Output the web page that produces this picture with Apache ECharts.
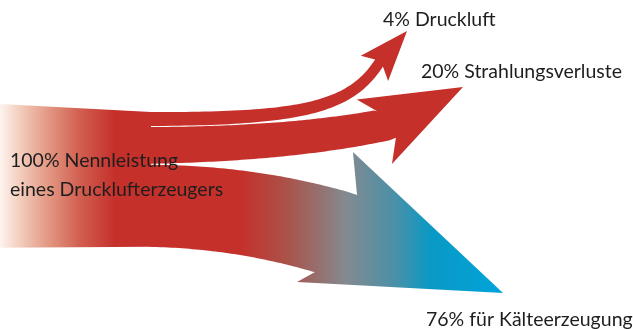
<!DOCTYPE html>
<html><head><meta charset="utf-8">
<script src="https://cdn.jsdelivr.net/npm/echarts@6/dist/echarts.min.js"></script>
<style>html,body{margin:0;padding:0;background:#fff}#c{width:633px;height:329px}</style>
</head><body><div id="c"></div>
<script>
// ---- data ----
const sourceValue = 100;
const sourceLines = ['Nennleistung', 'eines Drucklufterzeugers'];
const flowNames = ['Druckluft', 'Strahlungsverluste', 'für Kälteerzeugung'];
const flowValues = [4, 20, 76];

// ---- layout / style (not data) ----
const W = 633, H = 329;
const FONT = 'Lato, "Open Sans", sans-serif';
const FONT_SIZE = 19.5;
const TEXT = '#1e1e1e';
const RED = '#c5302b';
const layout = {
  splitX: 150, startTop: 112, gap: 1, widthK: 6.1, widthP: 0.6,
  sourceFlare: [8, 1],
  sourceLabel: { x: 10, y: 160.5, lineH: 29 },
  flows: [
    { c1: [300, 0], c2: [350, 108], end: [379, 63], tip: [407, 31], taper: 0.74, skew: 0,
      barbs: [[-6.6, -18.5], [-7.6, 18.8]], label: [383, 20] },
    { c1: [240, -1], c2: [320, 138], end: [386.5, 124.5], tip: [463, 87], taper: 0.87, skew: -2.6,
      barbs: [[-15.7, -35.5], [-12.5, 37.9]], label: [421, 72] },
    { c1: [230, 1], c2: [290, 220], end: [336, 233.5], tip: [503, 293], taper: 1.056, skew: 6.9,
      barbs: [[-11.4, -82.5], [-20.4, 58.8]], label: [426, 319.5] }
  ]
};

function bandWidth(v) { return layout.widthK * Math.pow(v, layout.widthP); }
const starts = [];
(function () {
  let top = layout.startTop;
  flowValues.forEach(v => { const w = bandWidth(v); starts.push({ top, w, cy: top + w / 2 }); top += w + layout.gap; });
})();
const bandBottom = starts[starts.length - 1].top + starts[starts.length - 1].w;

function bez(p0, p1, p2, p3, t) {
  const m = 1 - t;
  return [m*m*m*p0[0] + 3*m*m*t*p1[0] + 3*m*t*t*p2[0] + t*t*t*p3[0],
          m*m*m*p0[1] + 3*m*m*t*p1[1] + 3*m*t*t*p2[1] + t*t*t*p3[1]];
}
function bezD(p0, p1, p2, p3, t) {
  const m = 1 - t;
  return [3*m*m*(p1[0]-p0[0]) + 6*m*t*(p2[0]-p1[0]) + 3*t*t*(p3[0]-p2[0]),
          3*m*m*(p1[1]-p0[1]) + 6*m*t*(p2[1]-p1[1]) + 3*t*t*(p3[1]-p2[1])];
}
function norm(v) { const l = Math.hypot(v[0], v[1]) || 1; return [v[0]/l, v[1]/l]; }
function add(a, b, s) { return [a[0] + b[0]*s, a[1] + b[1]*s]; }
function dot(a, b) { return a[0]*b[0] + a[1]*b[1]; }

function flowOutline(i) {
  const L = layout.flows[i], st = starts[i];
  const p0 = [layout.splitX, st.cy], p1 = [L.c1[0], st.cy + L.c1[1]], p2 = L.c2, p3 = L.end;
  const w0 = st.w, N = 60;
  const u = norm([L.tip[0] - p3[0], L.tip[1] - p3[1]]);
  const nH = [-u[1], u[0]];
  const hw = w0 * L.taper / 2;
  const upN = add(add(p3, u, L.skew), nH, -hw);
  const loN = add(add(p3, u, -L.skew), nH, hw);
  const upB = add(add(p3, u, L.barbs[0][0]), nH, L.barbs[0][1]);
  const loB = add(add(p3, u, L.barbs[1][0]), nH, L.barbs[1][1]);
  const topE = [], botE = [];
  for (let k = 0; k <= N; k++) {
    const t = k / N;
    const b = bez(p0, p1, p2, p3, t);
    const d = norm(bezD(p0, p1, p2, p3, t));
    const n = [-d[1], d[0]];
    const w = w0 * (1 + (L.taper - 1) * t) / 2;
    const tp = add(b, n, -w), bp = add(b, n, w);
    if (dot([tp[0]-upN[0], tp[1]-upN[1]], u) < 0) topE.push(tp);
    if (dot([bp[0]-loN[0], bp[1]-loN[1]], u) < 0) botE.push(bp);
  }
  return [...topE, upN, upB, L.tip, loB, loN, ...botE.reverse()];
}

const chart = echarts.init(document.getElementById('c'), null, { renderer: 'canvas' });
chart.setOption({
  animation: false,
  backgroundColor: '#ffffff',
  grid: { left: 0, right: 0, top: 0, bottom: 0 },
  xAxis: { type: 'value', min: 0, max: W, show: false },
  yAxis: { type: 'value', min: 0, max: H, inverse: true, show: false },
  series: [
    {
      type: 'custom', coordinateSystem: 'cartesian2d', silent: true, z: 2,
      data: flowValues.map((v, i) => [i, v]),
      renderItem: function (params, api) {
        const i = api.value(0), v = api.value(1);
        const pts = flowOutline(i).map(p => api.coord(p));
        let fill = RED;
        if (i === 2) {
          const a = api.coord([240, 0])[0], b = api.coord([505, 0])[0];
          fill = new echarts.graphic.LinearGradient(a, 0, b, 0, [
            { offset: 0, color: RED }, { offset: 0.19, color: '#a8554c' },
            { offset: 0.40, color: '#838a90' }, { offset: 0.585, color: '#4a90a8' },
            { offset: 0.717, color: '#0a99c4' }, { offset: 1, color: '#00a4dc' }], true);
        }
        const lp = api.coord(layout.flows[i].label);
        return { type: 'group', children: [
          { type: 'polygon', shape: { points: pts }, style: { fill: fill } },
          { type: 'text', x: lp[0], y: lp[1], style: { text: v + '% ' + flowNames[i],
            font: FONT_SIZE + 'px ' + FONT, fill: TEXT, verticalAlign: 'middle', align: 'left' } }
        ]};
      }
    },
    {
      type: 'custom', coordinateSystem: 'cartesian2d', silent: true, z: 3,
      data: [[0, sourceValue]],
      renderItem: function (params, api) {
        const pts = [
          [0, layout.startTop - layout.sourceFlare[0]],
          [layout.splitX + 1, layout.startTop],
          [layout.splitX + 1, bandBottom],
          [0, bandBottom + layout.sourceFlare[1]]
        ].map(p => api.coord(p));
        const gx0 = api.coord([0, 0])[0], gx1 = api.coord([115, 0])[0];
        const s = layout.sourceLabel;
        const lp1 = api.coord([s.x, s.y]), lp2 = api.coord([s.x, s.y + s.lineH]);
        return { type: 'group', children: [
          { type: 'polygon', shape: { points: pts },
            style: { fill: new echarts.graphic.LinearGradient(gx0, 0, gx1, 0, [
              { offset: 0, color: '#fdf4f0' }, { offset: 0.15, color: '#f5d2c3' },
              { offset: 0.4, color: '#e49c87' }, { offset: 0.7, color: '#d15e4f' },
              { offset: 1, color: RED }], true) } },
          { type: 'text', x: lp1[0], y: lp1[1], style: { text: api.value(1) + '% ' + sourceLines[0],
            font: FONT_SIZE + 'px ' + FONT, fill: TEXT, verticalAlign: 'middle', align: 'left' } },
          { type: 'text', x: lp2[0], y: lp2[1], style: { text: sourceLines[1],
            font: FONT_SIZE + 'px ' + FONT, fill: TEXT, verticalAlign: 'middle', align: 'left' } }
        ]};
      }
    }
  ]
});
</script></body></html>
